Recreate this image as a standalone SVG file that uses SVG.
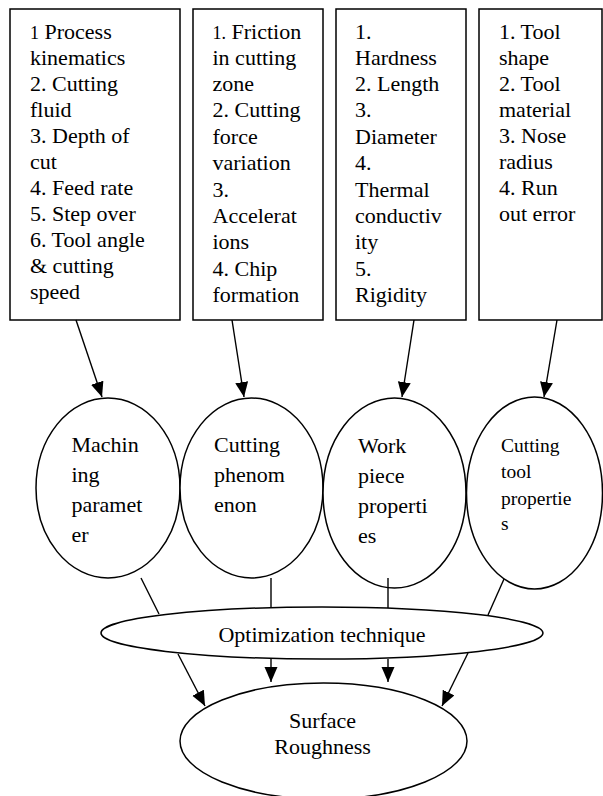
<svg xmlns="http://www.w3.org/2000/svg" width="603" height="796" viewBox="0 0 603 796">
  <defs>
    <style>
      .shape { fill: #ffffff; stroke: #000000; stroke-width: 1.5; }
      .edge { fill: none; stroke: #000000; stroke-width: 1.4; }
      .t { font-family: "Liberation Serif", "Times New Roman", serif; font-size: 22px; fill: #000000; }
      .sm { font-size: 19.5px; }
      .num { font-size: 18px; }
      .mid { text-anchor: middle; }
    </style>
    <marker id="arrow" markerUnits="userSpaceOnUse" markerWidth="16" markerHeight="14" refX="15" refY="6.5" orient="auto">
      <path d="M0,0 L15,6.5 L0,13 z" fill="#000000"/>
    </marker>
  </defs>
  <rect width="603" height="796" fill="#ffffff"/>

  <!-- factor boxes -->
  <g id="box-machining">
    <rect class="shape" x="10" y="9" width="170" height="311"/>
    <text class="t" x="30" y="39"><tspan class="num">1</tspan> Process</text>
    <text class="t" x="30" y="65">kinematics</text>
    <text class="t" x="30" y="91">2. Cutting</text>
    <text class="t" x="30" y="117">fluid</text>
    <text class="t" x="30" y="143">3. Depth of</text>
    <text class="t" x="30" y="169">cut</text>
    <text class="t" x="30" y="195">4. Feed rate</text>
    <text class="t" x="30" y="221">5. Step over</text>
    <text class="t" x="30" y="247">6. Tool angle</text>
    <text class="t" x="30" y="273">&amp; cutting</text>
    <text class="t" x="30" y="299">speed</text>
  </g>
  <g id="box-phenomenon">
    <rect class="shape" x="193" y="9" width="130" height="311"/>
    <text class="t" x="212.5" y="39"><tspan class="num">1.</tspan> Friction</text>
    <text class="t" x="212.5" y="65">in cutting</text>
    <text class="t" x="212.5" y="91">zone</text>
    <text class="t" x="212.5" y="117">2. Cutting</text>
    <text class="t" x="212.5" y="144">force</text>
    <text class="t" x="212.5" y="170">variation</text>
    <text class="t" x="212.5" y="197">3.</text>
    <text class="t" x="212.5" y="223">Accelerat</text>
    <text class="t" x="212.5" y="249">ions</text>
    <text class="t" x="212.5" y="276">4. Chip</text>
    <text class="t" x="212.5" y="302">formation</text>
  </g>
  <g id="box-workpiece">
    <rect class="shape" x="336" y="9" width="130" height="311"/>
    <text class="t" x="355" y="39">1.</text>
    <text class="t" x="355" y="65">Hardness</text>
    <text class="t" x="355" y="91">2. Length</text>
    <text class="t" x="355" y="117">3.</text>
    <text class="t" x="355" y="144">Diameter</text>
    <text class="t" x="355" y="170">4.</text>
    <text class="t" x="355" y="197">Thermal</text>
    <text class="t" x="355" y="223">conductiv</text>
    <text class="t" x="355" y="249">ity</text>
    <text class="t" x="355" y="276">5.</text>
    <text class="t" x="355" y="302">Rigidity</text>
  </g>
  <g id="box-tool">
    <rect class="shape" x="479" y="9" width="123" height="311"/>
    <text class="t" x="499" y="39">1. Tool</text>
    <text class="t" x="499" y="65">shape</text>
    <text class="t" x="499" y="91">2. Tool</text>
    <text class="t" x="499" y="117">material</text>
    <text class="t" x="499" y="143">3. Nose</text>
    <text class="t" x="499" y="169">radius</text>
    <text class="t" x="499" y="195">4. Run</text>
    <text class="t" x="499" y="221">out error</text>
  </g>

  <!-- category ellipses -->
  <g id="node-machining">
    <ellipse class="shape" cx="108" cy="488" rx="72" ry="90"/>
    <text class="t" x="71.5" y="452">Machin</text>
    <text class="t" x="71.5" y="482">ing</text>
    <text class="t" x="71.5" y="512">paramet</text>
    <text class="t" x="71.5" y="542">er</text>
  </g>
  <g id="node-phenomenon">
    <ellipse class="shape" cx="251.5" cy="488" rx="71.5" ry="90"/>
    <text class="t" x="214" y="452">Cutting</text>
    <text class="t" x="214" y="482">phenom</text>
    <text class="t" x="214" y="512">enon</text>
  </g>
  <g id="node-workpiece">
    <ellipse class="shape" cx="394.5" cy="493" rx="71.5" ry="95"/>
    <text class="t" x="358" y="453">Work</text>
    <text class="t" x="358" y="483">piece</text>
    <text class="t" x="358" y="513">properti</text>
    <text class="t" x="358" y="543">es</text>
  </g>
  <g id="node-tool">
    <ellipse class="shape" cx="534.5" cy="493" rx="68" ry="96"/>
    <text class="t sm" x="501" y="452">Cutting</text>
    <text class="t sm" x="501" y="478">tool</text>
    <text class="t sm" x="501" y="505">propertie</text>
    <text class="t sm" x="501" y="530">s</text>
  </g>

  <!-- connectors -->
  <g id="connectors">
    <line class="edge" x1="76" y1="320" x2="102" y2="397" marker-end="url(#arrow)"/>
    <line class="edge" x1="232" y1="320" x2="244" y2="397" marker-end="url(#arrow)"/>
    <line class="edge" x1="414" y1="320" x2="402" y2="397" marker-end="url(#arrow)"/>
    <line class="edge" x1="557" y1="320" x2="544" y2="397" marker-end="url(#arrow)"/>

    <line class="edge" x1="141" y1="578" x2="159" y2="614"/>
    <line class="edge" x1="271" y1="578" x2="271" y2="608"/>
    <line class="edge" x1="388" y1="578" x2="388" y2="608"/>
    <line class="edge" x1="504" y1="579" x2="488" y2="615"/>

    <line class="edge" x1="178" y1="654" x2="205" y2="706" marker-end="url(#arrow)"/>
    <line class="edge" x1="271" y1="659" x2="271" y2="682" marker-end="url(#arrow)"/>
    <line class="edge" x1="388" y1="659" x2="388" y2="682" marker-end="url(#arrow)"/>
    <line class="edge" x1="468" y1="653" x2="442" y2="706" marker-end="url(#arrow)"/>
  </g>

  <!-- optimization stage -->
  <g id="node-optimization">
    <ellipse class="shape" cx="322" cy="633" rx="221" ry="26"/>
    <text class="t mid" x="322" y="642">Optimization technique</text>
  </g>

  <!-- result -->
  <g id="node-roughness">
    <ellipse class="shape" cx="323.5" cy="741" rx="143.5" ry="58"/>
    <text class="t mid" x="322.5" y="728">Surface</text>
    <text class="t mid" x="322.5" y="753.5">Roughness</text>
  </g>
</svg>
